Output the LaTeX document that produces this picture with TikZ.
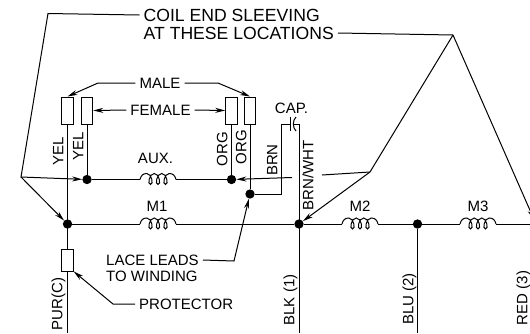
\documentclass[tikz,border=0pt]{standalone}
\usepackage{fontspec}
\setmainfont{Liberation Sans}
\usetikzlibrary{arrows.meta}
\tikzset{
  wire/.style={draw, line width=1pt},
  lead/.style={draw, line width=1pt, -{Stealth[length=10pt, width=5pt]}},
  junction/.style={circle, fill=black, inner sep=3.3pt},
  wirebox/.style={draw, line width=1pt, fill=white, minimum width=11.5pt, minimum height=27pt, inner sep=0pt},
  note/.style={font=\fontsize{15}{15}\selectfont, inner xsep=4pt, inner ysep=0pt, text height=10.8pt, text depth=0pt},
  bignote/.style={note, font=\fontsize{17.6}{18}\selectfont, text height=12.6pt},
  sidenote/.style={note, rotate=90, inner xsep=0pt},
  coil/.pic={
    \path[wire] (0,0) .. controls (1,-4) and (3,-6) .. (6.75,-6)
      \foreach \c in {10.5,18,25.5} {
        .. controls ({\c+1},-6) and ({\c+3.5},5) .. (\c,5)
        .. controls ({\c-3.5},5) and ({\c-1},-6) .. ({\c+3.75},-6)
      }
      .. controls (33,-6) and (35,-4) .. (36,0);
  }
}

\begin{document}
\begin{tikzpicture}[x=1pt, y=-1pt]
  \clip (0,0) rectangle (530,333);

  \coordinate (sleeveTop)  at (48,13.5);
  \coordinate (sleeveLeft) at (21,177);
  \coordinate (sleeveApex) at (453,35);
  \coordinate (sleeveBend) at (370,172);
  \coordinate (gapRight)   at (322,175);
  \coordinate (gapLeft)    at (292,177.5);
  \coordinate (maleBendL)  at (98,83);
  \coordinate (maleBendR)  at (218,83);
  \coordinate (laceBend)   at (234,261);
  \coordinate (protBend)   at (113,304);
  \coordinate (capLeft)    at (281,124);
  \coordinate (capRight)   at (299,124);
  \coordinate (capPlateA)  at (290,124);
  \coordinate (capPlateB)  at (294,124);
  \coordinate (brnCorner)  at (281,194);
  \coordinate (purEnd)     at (67.5,333);
  \coordinate (blkEnd)     at (299,333);
  \coordinate (bluEnd)     at (417.5,333);
  \coordinate (redEnd)     at (536,333);
  \coordinate (auxL)       at (140,179.5);
  \coordinate (auxR)       at (176,179.5);
  \coordinate (m1L)        at (140,224);
  \coordinate (m1R)        at (176,224);
  \coordinate (m2L)        at (342,224);
  \coordinate (m2R)        at (378,224);
  \coordinate (m3L)        at (460,224);
  \coordinate (m3R)        at (496,224);

  \node[junction] (purDot)  at (67.5,224) {};
  \node[junction] (blkDot)  at (299,224) {};
  \node[junction] (bluDot)  at (417.5,224) {};
  \node[junction] (redDot)  at (536,224) {};
  \node[junction] (yelDot)  at (87,179.5) {};
  \node[junction] (orgDot)  at (231.5,179.5) {};
  \node[junction] (brnDot)  at (250,194) {};

  \node[wirebox] (maleL)   at (67.5,110.5) {};
  \node[wirebox] (femaleL) at (87,110.5) {};
  \node[wirebox] (femaleR) at (231.5,110.5) {};
  \node[wirebox] (maleR)   at (250,110.5) {};
  \node[wirebox, minimum height=22pt] (protector) at (67.5,260) {};

  \node[bignote, anchor=west] (sleeveA) at (139.5,15) {COIL END SLEEVING};
  \node[bignote, anchor=west] (sleeveB) at (139.5,33) {AT THESE LOCATIONS};
  \node[note] (maleNote)   at (160,83) {MALE};
  \node[note] (femaleNote) at (160.5,110) {FEMALE};
  \node[note] (auxNote)    at (155.5,158) {AUX.};
  \node[note] (capNote)    at (291.5,108) {CAP.};
  \node[note] (m1Note)     at (157,206) {M1};
  \node[note] (m2Note)     at (360,206) {M2};
  \node[note] (m3Note)     at (478,206) {M3};
  \node[note, anchor=west] (laceA) at (102,260) {LACE LEADS};
  \node[note, anchor=west] (laceB) at (102,276) {TO WINDING};
  \node[note, anchor=west] (protNote) at (135,304) {PROTECTOR};

  \node[sidenote] (yelA) at (58,151.5) {YEL};
  \node[sidenote] (yelB) at (78,146.5) {YEL};
  \node[sidenote] (orgA) at (222,149) {ORG};
  \node[sidenote] (orgB) at (241,147) {ORG};
  \node[sidenote] (brn)  at (272,160) {BRN};
  \node[sidenote] (brnw) at (308,175.5) {BRN/WHT};
  \node[sidenote] (pur)  at (57,304) {PUR(C)};
  \node[sidenote] (blk)  at (289,300) {BLK (1)};
  \node[sidenote] (blu)  at (408,299) {BLU (2)};
  \node[sidenote] (red)  at (522,298) {RED (3)};

  \path[wire] (maleL) -- (protector);
  \path[wire] (protector) -- (purEnd);
  \path[wire] (femaleL) -- (yelDot);
  \path[wire] (femaleR) -- (orgDot);
  \path[wire] (maleR) -- (brnDot);
  \path[wire] (brnDot) -- (brnCorner) -- (capLeft) -- (capPlateA);
  \path[wire] (capPlateB) -- (capRight) -- (blkEnd);
  \path[wire] (bluDot) -- (bluEnd);
  \path[wire] (redDot) -- (redEnd);
  \path[wire] (yelDot) -- (auxL);
  \path[wire] (auxR) -- (orgDot);
  \path[wire] (purDot) -- (m1L);
  \path[wire] (m1R) -- (blkDot);
  \path[wire] (blkDot) -- (m2L);
  \path[wire] (m2R) -- (bluDot);
  \path[wire] (bluDot) -- (m3L);
  \path[wire] (m3R) -- (redDot);

  \pic at (auxL) {coil};
  \pic at (m1L) {coil};
  \pic at (m2L) {coil};
  \pic at (m3L) {coil};

  \path[wire] (290,117) -- (290,131);
  \path[wire] (296,117) .. controls (292.5,120) and (292.5,128) .. (296,131);

  \path[lead] (sleeveA.west) -- (sleeveTop) -- (sleeveLeft) -- (yelDot);
  \path[lead] (sleeveLeft) -- (purDot);
  \path[wire] (sleeveB.east) -- (sleeveApex);
  \path[lead] (sleeveApex) -- (sleeveBend) -- (blkDot);
  \path[lead] (sleeveApex) -- (redDot);
  \path[wire] (sleeveBend) -- (gapRight);
  \path[lead] (gapLeft) -- (orgDot);
  \path[lead] (maleNote.west) -- (maleBendL) -- (maleL.north);
  \path[lead] (maleNote.east) -- (maleBendR) -- (maleR.north);
  \path[lead] (femaleNote.west) -- (femaleL.east);
  \path[lead] (femaleNote.east) -- (femaleR.west);
  \path[lead] (laceA.east) -- (laceBend) -- (brnDot);
  \path[lead] (protNote.west) -- (protBend) -- (protector.south east);
\end{tikzpicture}
\end{document}
